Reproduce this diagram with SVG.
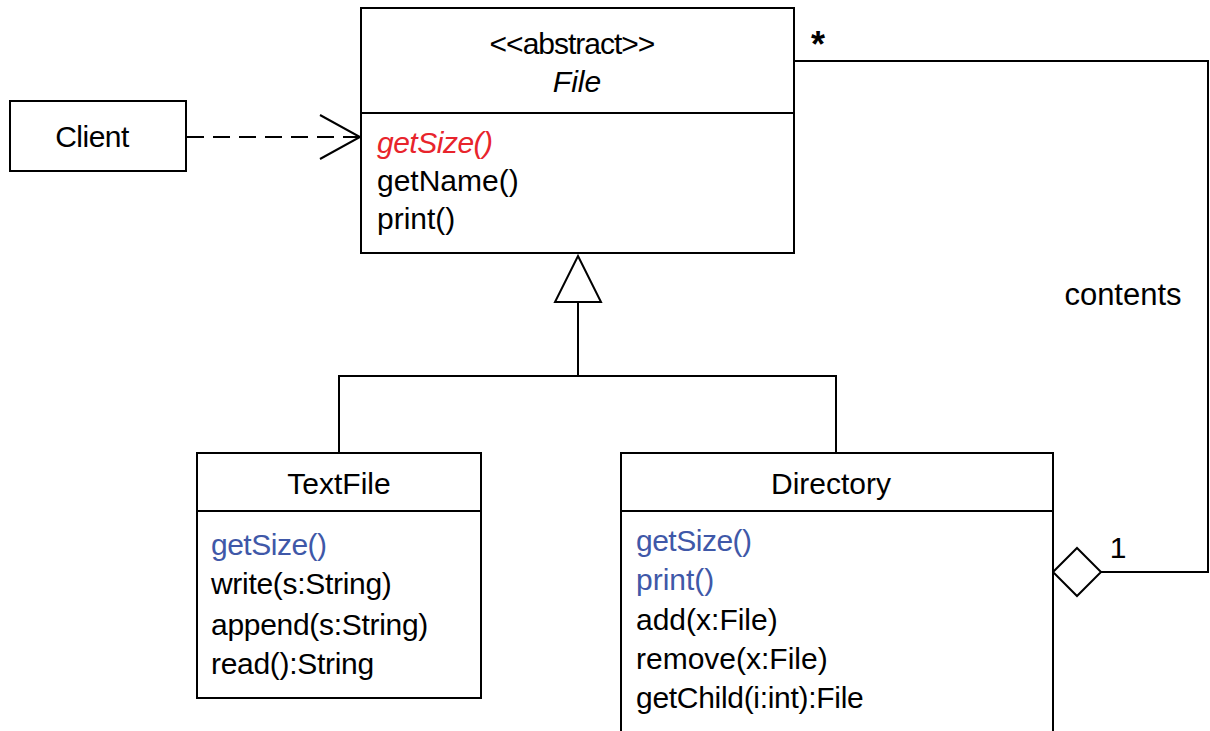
<svg xmlns="http://www.w3.org/2000/svg" width="1210" height="731" viewBox="0 0 1210 731">
  <style>
    .box { fill: #ffffff; stroke: #000000; stroke-width: 2; }
    .line { fill: none; stroke: #000000; stroke-width: 2; }
    text { font-family: "Liberation Sans", Arial, sans-serif; font-size: 30px; fill: #000000; }
    .mid { text-anchor: middle; }
    .abs { fill: #e8242c; font-style: italic; }
    .ovr { fill: #3f58a8; }
    .it { font-style: italic; }
  </style>

  <!-- connectors -->
  <g id="connectors">
    <!-- Client depends on File -->
    <line class="line" x1="187" y1="137" x2="358" y2="137" stroke-dasharray="17,9"/>
    <polyline class="line" points="320,115 360,137 320,159"/>
    <!-- generalization: TextFile / Directory extend File -->
    <polygon class="box" points="578,256 601,302 555,302"/>
    <polyline class="line" points="578,302 578,376"/>
    <polyline class="line" points="339,453 339,376 836,376 836,453"/>
    <!-- aggregation: Directory contents -->
    <polyline class="line" points="794,61 1208,61 1208,572 1101,572"/>
    <polygon class="box" points="1053,572 1077,548 1101,572 1077,596"/>
    <text x="818" y="57" class="mid" style="font-size:36px;font-weight:bold">*</text>
    <text x="1118" y="558" class="mid">1</text>
    <text x="1123" y="305" class="mid" style="font-size:31px">contents</text>
  </g>

  <g id="client">
    <rect class="box" x="10" y="101" width="176" height="70"/>
    <text x="92" y="147" class="mid" letter-spacing="-0.5">Client</text>
  </g>

  <g id="file">
    <rect class="box" x="361" y="8" width="433" height="245"/>
    <line class="line" x1="361" y1="113" x2="794" y2="113"/>
    <text x="572" y="54" class="mid" letter-spacing="-1">&lt;&lt;abstract&gt;&gt;</text>
    <text x="577" y="92" class="mid it">File</text>
    <text x="377" y="153" class="abs" letter-spacing="-0.5">getSize()</text>
    <text x="377" y="191">getName()</text>
    <text x="377" y="229">print()</text>
  </g>

  <g id="textfile">
    <rect class="box" x="197" y="453" width="284" height="245"/>
    <line class="line" x1="197" y1="511" x2="481" y2="511"/>
    <text x="339" y="494" class="mid">TextFile</text>
    <text x="211" y="555" class="ovr" letter-spacing="-0.5">getSize()</text>
    <text x="211" y="594" letter-spacing="-0.3">write(s:String)</text>
    <text x="211" y="635" letter-spacing="-0.3">append(s:String)</text>
    <text x="211" y="674" letter-spacing="-0.3">read():String</text>
  </g>

  <g id="directory">
    <rect class="box" x="621" y="453" width="432" height="290"/>
    <line class="line" x1="621" y1="511" x2="1053" y2="511"/>
    <text x="831" y="494" class="mid">Directory</text>
    <text x="636" y="551" class="ovr" letter-spacing="-0.5">getSize()</text>
    <text x="636" y="590" class="ovr">print()</text>
    <text x="636" y="630">add(x:File)</text>
    <text x="636" y="669">remove(x:File)</text>
    <text x="636" y="708" letter-spacing="-0.3">getChild(i:int):File</text>
  </g>
</svg>
